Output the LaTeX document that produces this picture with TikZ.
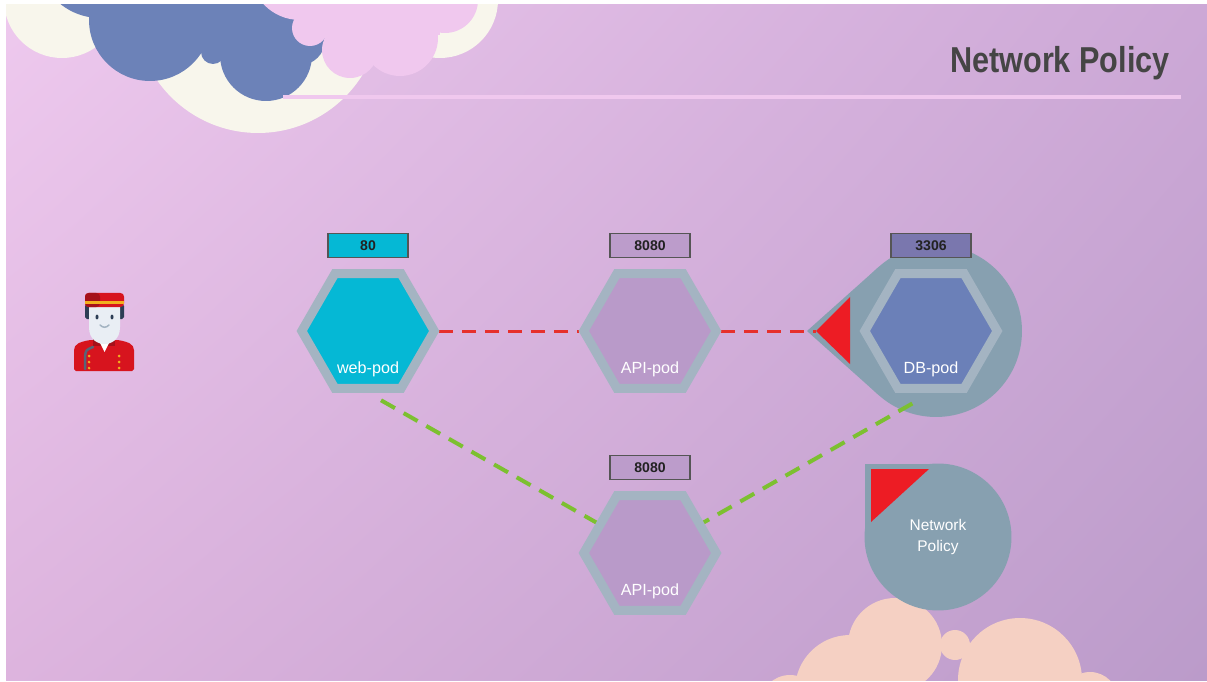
\documentclass[tikz,border=0pt]{standalone}
\usepackage{fontspec}
\setmainfont{Liberation Sans}
\usetikzlibrary{shapes.geometric, shadings, positioning, calc}
\definecolor{SkyTL}{HTML}{EEC9EE}
\definecolor{SkyTR}{HTML}{CCA8D6}
\definecolor{SkyBL}{HTML}{DDB4DE}
\definecolor{SkyBR}{HTML}{BB9BCA}
\definecolor{Cream}{HTML}{F8F6EC}
\definecolor{CloudBlue}{HTML}{6C82B8}
\definecolor{CloudPink}{HTML}{F0C8EE}
\definecolor{CloudPeach}{HTML}{F5D0C3}
\definecolor{PodRing}{HTML}{A4B4C2}
\definecolor{WebCyan}{HTML}{05B8D5}
\definecolor{ApiPurple}{HTML}{B99AC9}
\definecolor{DbBlue}{HTML}{6B80B8}
\definecolor{PortApi}{HTML}{BC9CCB}
\definecolor{PortDb}{HTML}{7A77AE}
\definecolor{PortLine}{HTML}{555555}
\definecolor{PortText}{HTML}{222222}
\definecolor{ShieldGray}{HTML}{87A0B0}
\definecolor{PolicyRed}{HTML}{ED1C24}
\definecolor{LinkRed}{HTML}{E6302C}
\definecolor{LinkGreen}{HTML}{7CC030}
\definecolor{TitleGray}{HTML}{454545}
\definecolor{BellRed}{HTML}{D7141E}
\definecolor{BellDark}{HTML}{A5111A}
\definecolor{BellGold}{HTML}{F2B01E}
\definecolor{BellFace}{HTML}{E9EEF4}
\definecolor{BellHair}{HTML}{2D3E55}
\pgfdeclarelayer{sky}
\pgfdeclarelayer{links}
\pgfsetlayers{sky,links,main}
\tikzset{
    pod/.style={
        regular polygon, regular polygon sides=6, minimum size=2.65cm,
        inner sep=0pt, draw=PodRing, line width=0.18cm
    },
    port/.style={
        draw=PortLine, line width=0.03cm, minimum width=1.6cm,
        minimum height=0.48cm, inner sep=0pt,
        font=\bfseries\fontsize{8}{8}\selectfont, text=PortText
    },
    podlabel/.style={
        text=white, inner sep=0pt, font=\fontsize{9.2}{10}\selectfont
    },
    redlink/.style={
        LinkRed, line width=0.06cm, dash pattern=on 0.28cm off 0.18cm
    },
    greenlink/.style={
        LinkGreen, line width=0.08cm, dash pattern=on 0.32cm off 0.2cm
    }
}

\begin{document}
\begin{tikzpicture}[
        x=0.02cm, y=-0.02cm,
        title/.style={
            anchor=base east, inner sep=0pt, text=TitleGray,
            font=\bfseries\fontsize{20.5}{24}\selectfont
        }
    ]
    \useasboundingbox (0,0) rectangle (1207,682);

    % --- sky and clouds ---
    \begin{pgfonlayer}{sky}
        \shade[upper left=SkyTL, upper right=SkyTR, lower left=SkyBL, lower right=SkyBR]
            (6,5) rectangle (1207,680);
        \begin{scope}
            \clip (6,5) rectangle (1207,680);
            % cream moon
            \fill[Cream] (62,0) circle[radius=1.16cm];
            \fill[Cream] (258,10) circle[radius=2.46cm];
            \fill[Cream] (440,0) circle[radius=1.16cm];
            \fill[Cream] (62,-10) rectangle (440,45);
            % blue cloud
            \fill[CloudBlue] (100,-45) circle[radius=1.26cm];
            \fill[CloudBlue] (150,20) circle[radius=1.22cm];
            \fill[CloudBlue] (213,52) circle[radius=0.24cm];
            \fill[CloudBlue] (266,55) circle[radius=0.92cm];
            \fill[CloudBlue] (300,40) circle[radius=0.5cm];
            \fill[CloudBlue] (110,-10) rectangle (320,45);
            % pink cloud
            \fill[CloudPink] (300,-30) circle[radius=1cm];
            \fill[CloudPink] (310,28) circle[radius=0.36cm];
            \fill[CloudPink] (350,50) circle[radius=0.56cm];
            \fill[CloudPink] (400,38) circle[radius=0.76cm];
            \fill[CloudPink] (445,0) circle[radius=0.66cm];
            \fill[CloudPink] (300,-10) rectangle (440,35);
            % peach cloud
            \fill[CloudPeach] (790,705) circle[radius=0.6cm];
            \fill[CloudPeach] (850,690) circle[radius=1.1cm];
            \fill[CloudPeach] (895,645) circle[radius=0.94cm];
            \fill[CloudPeach] (955,645) circle[radius=0.3cm];
            \fill[CloudPeach] (1020,680) circle[radius=1.24cm];
            \fill[CloudPeach] (1090,700) circle[radius=0.56cm];
        \end{scope}

        % shield around the database
        \fill[ShieldGray] (936,331) circle[radius=1.72cm];
        \fill[ShieldGray] (807,331) -- (878.6,267) -- (936,331) -- (878.6,395) -- cycle;

        % policy legend
        \fill[ShieldGray] (938,537) circle[radius=1.47cm];
        \fill[ShieldGray] (865,464) rectangle (938,537);
        \fill[PolicyRed] (871,469) -- (929,469) -- (871,522) -- cycle;
    \end{pgfonlayer}

    % --- title ---
    \node[title] (title) at (1170,73) {\scalebox{0.85}[1]{Network Policy}};
    \draw[CloudPink, line width=0.08cm] (283,97) -- (1181,97);

    % --- bellboy ---
    \coordinate (guest) at (104,333);
    \fill[BellRed, rounded corners=1pt] (74,371) -- (74,352)
        .. controls (74,344) and (80,342) .. (90,340) -- (118,340)
        .. controls (128,342) and (134,344) .. (134,352) -- (134,371) -- cycle;
    \fill[BellDark] (93,336) rectangle (115,346);
    \fill[white] (100,343) -- (109,343) -- (104.5,352) -- cycle;
    \draw[BellHair!80, line width=0.05cm, line cap=round] (93,347) .. controls (86,350) .. (85,356) -- (85,369);
    \foreach \y in {356,362,368} {
        \fill[BellGold] (89,\y) circle[radius=0.03cm];
        \fill[BellGold] (119,\y) circle[radius=0.03cm];
    }
    \fill[BellHair, rounded corners=1pt] (85,304) rectangle (91,319);
    \fill[BellHair, rounded corners=1pt] (118,304) rectangle (124,319);
    \fill[BellFace] (89,305) -- (120,305) -- (120,327)
        .. controls (120,340) and (111,344) .. (104.5,344)
        .. controls (98,344) and (89,340) .. (89,327) -- cycle;
    \fill[BellHair] (97,317) ellipse[x radius=0.03cm, y radius=0.05cm];
    \fill[BellHair] (112,317) ellipse[x radius=0.03cm, y radius=0.05cm];
    \draw[PodRing, line width=0.03cm, line cap=round] (100,325) .. controls (103,328) and (106,328) .. (109,325);
    \fill[BellRed, rounded corners=2pt] (85,307) -- (85,293) -- (124,293) -- (124,307) -- cycle;
    \fill[BellDark, rounded corners=2pt] (85,307) -- (85,293) -- (100,293) -- (100,307) -- cycle;
    \fill[BellGold] (85,301) rectangle (124,304);

    % --- pods ---
    \node[pod, fill=WebCyan] (web) at (368,331) {};
    \node[pod, fill=ApiPurple] (apiA) at (650,331) {};
    \node[pod, fill=DbBlue] (db) at (931,331) {};
    \node[pod, fill=ApiPurple] (apiB) at (650,553) {};

    \node[podlabel] (webname) at ([yshift=-0.76cm]web.center) {web-pod};
    \node[podlabel] (apiAname) at ([yshift=-0.76cm]apiA.center) {API-pod};
    \node[podlabel] (dbname) at ([yshift=-0.76cm]db.center) {DB-pod};
    \node[podlabel] (apiBname) at ([yshift=-0.76cm]apiB.center) {API-pod};

    % ports
    \node[port, fill=WebCyan, above=0.22cm of web] (webport) {80};
    \node[port, fill=PortApi, above=0.22cm of apiA] (apiAport) {8080};
    \node[port, fill=PortDb, above=0.22cm of db] (dbport) {3306};
    \node[port, fill=PortApi, above=0.22cm of apiB] (apiBport) {8080};

    % policy gate on the database
    \coordinate (gate) at (816,331);
    \fill[PolicyRed] (gate) -- (850,297) -- (850,364) -- cycle;

    \node[podlabel, align=center, font=\fontsize{8.8}{11.5}\selectfont] (policy) at (938,537) {Network\\Policy};

    % --- links ---
    \begin{pgfonlayer}{links}
        \draw[redlink] (web.east) -- (apiA.west);
        \draw[redlink] (apiA.east) -- (gate);
        \draw[greenlink, shorten <=0.3cm] (web.south) -- (apiB.center);
        \draw[greenlink, shorten >=0.3cm] (apiB.center) -- (db.south);
    \end{pgfonlayer}

\end{tikzpicture}
\end{document}
